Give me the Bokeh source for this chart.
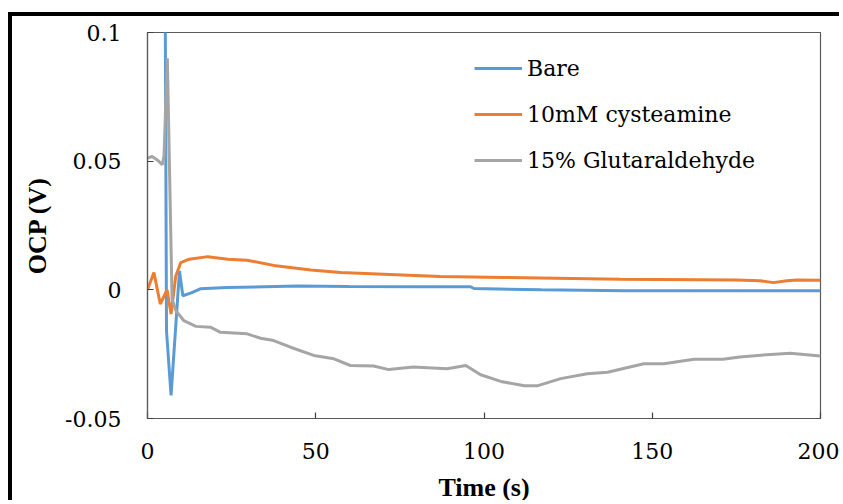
from bokeh.plotting import figure
from bokeh.models import Range1d, FixedTicker, Legend, LegendItem
from bokeh.embed import file_html
from bokeh.resources import INLINE

# ---- data ----
bare_t = [5.0, 5.65, 7.0, 9.5, 10.5, 13.0, 15.7, 23.6, 44.5, 60.0, 80.0, 96.0, 97.0, 117.0, 142.0, 200.0]
bare_v = [0.2, -0.016, -0.041, 0.0073, -0.0023, -0.0012, 0.0004, 0.0009, 0.0015, 0.0013, 0.0012, 0.0012, 0.0005, 0.0, -0.0004, -0.0004]

cyst_t = [0.0, 1.9, 3.8, 5.8, 7.0, 8.4, 9.9, 12.4, 17.9, 23.9, 29.6, 37.5, 48.5, 57.4, 72.0, 87.0, 106.0, 140.6, 175.0, 182.0, 186.0, 190.0, 193.0, 200.0]
cyst_v = [0.0, 0.0067, -0.0055, 0.0, -0.0094, 0.0054, 0.0106, 0.0119, 0.0129, 0.0119, 0.0115, 0.0095, 0.0077, 0.0067, 0.006, 0.0052, 0.0048, 0.0041, 0.0038, 0.0035, 0.0028, 0.0035, 0.0038, 0.0037]

glut_t = [0.0, 1.4, 2.9, 4.4, 4.9, 5.9, 7.3, 8.4, 10.8, 14.4, 18.7, 21.7, 29.6, 33.6, 37.5, 42.5, 49.4, 55.4, 60.3, 67.2, 71.7, 79.0, 89.0, 94.6, 99.0, 105.0, 112.0, 115.8, 122.8, 130.7, 136.7, 147.5, 153.5, 162.4, 171.0, 176.0, 184.0, 191.0, 200.0]
glut_v = [0.0512, 0.0518, 0.0505, 0.0486, 0.052, 0.09, -0.0036, -0.008, -0.012, -0.0142, -0.0145, -0.0165, -0.0171, -0.0188, -0.0197, -0.0223, -0.0255, -0.0268, -0.0294, -0.0296, -0.031, -0.030, -0.0307, -0.0294, -0.033, -0.0356, -0.0373, -0.0373, -0.0345, -0.0326, -0.032, -0.0287, -0.0287, -0.027, -0.027, -0.0261, -0.0252, -0.0246, -0.0257]

series_names = ["Bare", "10mM cysteamine", "15% Glutaraldehyde"]
series_colors = ["#5B9BD5", "#ED7D31", "#A5A5A5"]

x_ticks = [0, 50, 100, 150, 200]
x_tick_labels = ["0", "50", "100", "150", "200"]
y_ticks = [-0.05, 0, 0.05, 0.1]
y_tick_labels = ["-0.05", "0", "0.05", "0.1"]

BOLD_FONT = "Liberation Serif"   # bold face available
REG_FONT = "DejaVu Serif"        # regular serif face available

p = figure(width=831, height=488, output_backend="svg", toolbar_location=None,
           x_range=Range1d(0, 200), y_range=Range1d(-0.05, 0.1),
           min_border_left=135, min_border_right=23, min_border_top=16, min_border_bottom=84,
           styles={"margin-left": "8px", "margin-top": "12px",
                   "border-left": "4px solid black", "border-top": "4px solid black"})

p.xgrid.visible = False
p.ygrid.visible = False
p.outline_line_color = "#5a5a5a"
p.outline_line_width = 1.2

for ax in (p.xaxis[0], p.yaxis[0]):
    ax.axis_line_color = "#5a5a5a"
    ax.axis_line_width = 1.2
    ax.major_tick_line_color = "#404040"
    ax.major_tick_line_width = 1.2
    ax.major_tick_in = 6
    ax.major_tick_out = 0
    ax.minor_tick_line_color = None
    ax.major_label_text_font = REG_FONT
    ax.major_label_text_font_size = "22px"
    ax.major_label_text_color = "black"
    ax.axis_label_text_font = BOLD_FONT
    ax.axis_label_text_font_size = "26px"
    ax.axis_label_text_font_style = "bold"
    ax.axis_label_text_color = "black"

p.xaxis.ticker = FixedTicker(ticks=x_ticks)
p.xaxis.major_label_overrides = dict(zip(x_ticks, x_tick_labels))
p.yaxis.ticker = FixedTicker(ticks=y_ticks)
p.yaxis.major_label_overrides = dict(zip(y_ticks, y_tick_labels))
p.xaxis.axis_label = "Time (s)"
p.yaxis.axis_label = "OCP (V)"
p.xaxis.major_label_standoff = 24
p.xaxis.axis_label_standoff = 11
p.yaxis.major_label_standoff = 26
p.yaxis.axis_label_standoff = 10

r1 = p.line(bare_t, bare_v, line_color=series_colors[0], line_width=3)
r2 = p.line(cyst_t, cyst_v, line_color=series_colors[1], line_width=3)
r3 = p.line(glut_t, glut_v, line_color=series_colors[2], line_width=3)

legend = Legend(items=[LegendItem(label=series_names[0], renderers=[r1]),
                       LegendItem(label=series_names[1], renderers=[r2]),
                       LegendItem(label=series_names[2], renderers=[r3])],
                location=(327, 245), glyph_width=48, glyph_height=20, label_standoff=5,
                label_height=26, spacing=20, padding=0, margin=0,
                label_text_font=REG_FONT, label_text_font_size="22px", label_text_color="black",
                border_line_color=None, background_fill_alpha=0)
p.add_layout(legend, "center")

open("out.html", "w").write(file_html(p, INLINE))
